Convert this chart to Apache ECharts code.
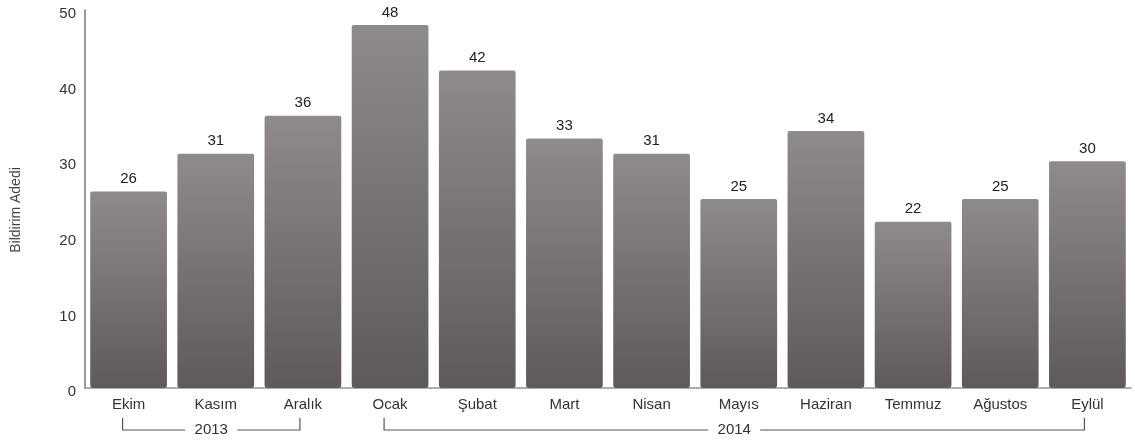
<!DOCTYPE html>
<html>
<head>
<meta charset="utf-8">
<script src="https://cdn.jsdelivr.net/npm/echarts@6/dist/echarts.min.js"></script>
<style>
html,body{margin:0;padding:0;background:#fff;}
#c{width:1135px;height:440px;}
</style>
</head>
<body>
<div id="c"></div>
<script>
const categories = ['Ekim','Kasım','Aralık','Ocak','Şubat','Mart','Nisan','Mayıs','Haziran','Temmuz','Ağustos','Eylül'];
const values = [26,31,36,48,42,33,31,25,34,22,25,30];
const yearGroups = [
  {label:'2013', from:0, to:2},
  {label:'2014', from:3, to:11}
];
const yTitle = 'Bildirim Adedi';

const FONT = '"Liberation Sans Narrow","Liberation Sans",Arial,sans-serif';
const chart = echarts.init(document.getElementById('c'), null, {renderer:'canvas'});
const option = {
  backgroundColor:'#ffffff',
  animation:false,
  grid:{left:85, right:4, top:10, bottom:52, containLabel:false},
  xAxis:{
    type:'category', data:categories,
    axisLine:{show:true, lineStyle:{color:'#9a9090', width:1.5}},
    axisTick:{show:false},
    axisLabel:{color:'#333', fontSize:15, fontFamily:FONT, margin:9}
  },
  yAxis:{
    type:'value', min:0, max:50, interval:10,
    name:yTitle, nameLocation:'middle', nameGap:62, nameRotate:90,
    nameTextStyle:{color:'#444', fontSize:14, fontFamily:FONT, padding:[0,22,0,0]},
    axisLine:{show:true, lineStyle:{color:'#7f7373', width:1.5}},
    axisTick:{show:false},
    splitLine:{show:false},
    axisLabel:{color:'#333', fontSize:15, fontFamily:FONT, margin:9, verticalAlign:'top', lineHeight:8}
  },
  series:[{
    type:'bar', data:values, barCategoryGap:'12%',
    itemStyle:{
      color:new echarts.graphic.LinearGradient(0,0,0,1,[
        {offset:0,color:'#8f8b8b'},{offset:1,color:'#5e5a5a'}
      ]),
      borderRadius:[2,2,3,3]
    },
    label:{show:true, position:'top', distance:5, color:'#222', fontSize:15, fontFamily:FONT}
  }]
};
chart.setOption(option);

// year brackets under category labels
const graphics = [];
const yBase = chart.convertToPixel({gridIndex:0},[0,0])[1];
const yTop = yBase + 30, yLine = yBase + 42;
yearGroups.forEach(g => {
  const x1 = chart.convertToPixel({xAxisIndex:0}, g.from) - 6;
  const x2 = chart.convertToPixel({xAxisIndex:0}, g.to) - 3;
  const xm = (x1 + x2) / 2;
  const halfGap = 26;
  const st = {stroke:'#555', lineWidth:1.2};
  graphics.push({type:'polyline', shape:{points:[[x1,yTop],[x1,yLine],[xm-halfGap,yLine]]}, style:Object.assign({fill:null},st), silent:true});
  graphics.push({type:'polyline', shape:{points:[[xm+halfGap,yLine],[x2,yLine],[x2,yTop]]}, style:Object.assign({fill:null},st), silent:true});
  graphics.push({type:'text', x:xm, y:yLine, style:{text:g.label, fill:'#333', fontSize:15, fontFamily:FONT, align:'center', verticalAlign:'middle'}, silent:true});
});
chart.setOption({graphic:graphics});
</script>
</body>
</html>
